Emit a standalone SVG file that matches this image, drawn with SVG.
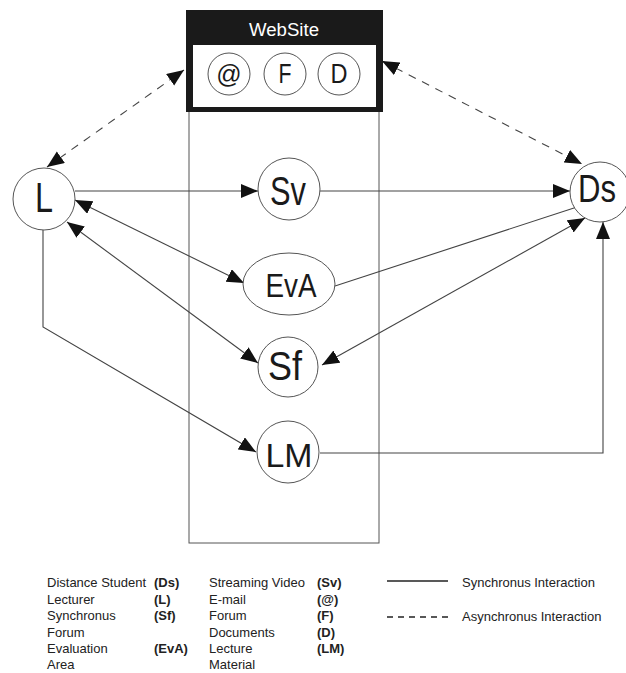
<svg xmlns="http://www.w3.org/2000/svg" width="626" height="673" viewBox="0 0 626 673">
<style>
  .bg{fill:#fff}
  .node{fill:#fff;stroke:#555;stroke-width:1}
  .lbl{font-family:"Liberation Sans",Arial,sans-serif;fill:#1a1a1a;text-anchor:middle}
  .conn{fill:none;stroke:#444;stroke-width:1.1}
  .dash{stroke-dasharray:8 7}
  .leg{font-family:"Liberation Sans",Arial,sans-serif;font-size:13px;fill:#222}
  .b{font-weight:bold}
</style>
<defs>
  <marker id="ah" markerUnits="userSpaceOnUse" markerWidth="18" markerHeight="15" refX="17" refY="7" orient="auto-start-reverse">
    <path d="M0,0 L17,7 L0,14 z" fill="#111"/>
  </marker>
</defs>
<rect class="bg" width="626" height="673"/>

<g id="area">
  <rect x="189" y="110" width="190" height="433" fill="none" stroke="#555" stroke-width="1"/>
</g>

<g id="connectors">
  <path class="conn" d="M75,191 L258,191" marker-end="url(#ah)"/>
  <path class="conn" d="M320,191 L570,191" marker-end="url(#ah)"/>
  <path class="conn" d="M75,200 L244,283" marker-start="url(#ah)" marker-end="url(#ah)"/>
  <path class="conn" d="M67,222 L258,363" marker-start="url(#ah)" marker-end="url(#ah)"/>
  <path class="conn" d="M335,286 L577,207"/>
  <path class="conn" d="M322,365 L585,218" marker-start="url(#ah)" marker-end="url(#ah)"/>
  <path class="conn" d="M43,230 L43,327 L256,452" marker-end="url(#ah)"/>
  <path class="conn" d="M320,453 L603,453 L603,222" marker-end="url(#ah)"/>
  <path class="conn dash" d="M47,167 L184,70" marker-start="url(#ah)" marker-end="url(#ah)"/>
  <path class="conn dash" d="M382,61 L582,164" marker-start="url(#ah)" marker-end="url(#ah)"/>
</g>

<g id="website">
  <rect x="186" y="10" width="197" height="102" fill="#1a1a1a"/>
  <rect x="193" y="45" width="183" height="62" fill="#fff"/>
  <text x="284" y="36" class="lbl" style="fill:#fff;font-size:18px" textLength="70" lengthAdjust="spacingAndGlyphs">WebSite</text>
  <g id="email">
    <circle class="node" cx="229" cy="74" r="21"/>
    <text x="229" y="83" class="lbl" style="font-size:25px">@</text>
  </g>
  <g id="forum">
    <circle class="node" cx="285" cy="74" r="21"/>
    <text x="285" y="83" class="lbl" style="font-size:27px" textLength="13" lengthAdjust="spacingAndGlyphs">F</text>
  </g>
  <g id="documents">
    <circle class="node" cx="339" cy="74" r="21"/>
    <text x="339" y="83" class="lbl" style="font-size:27px" textLength="17" lengthAdjust="spacingAndGlyphs">D</text>
  </g>
</g>

<g id="L">
  <circle class="node" cx="44" cy="199" r="31"/>
  <text x="44" y="212" class="lbl" style="font-size:42px" textLength="18" lengthAdjust="spacingAndGlyphs">L</text>
</g>
<g id="Sv">
  <circle class="node" cx="289" cy="189" r="31"/>
  <text x="288" y="205" class="lbl" style="font-size:41px" textLength="36" lengthAdjust="spacingAndGlyphs">Sv</text>
</g>
<g id="Ds">
  <circle class="node" cx="600" cy="192" r="30"/>
  <text x="597" y="202" class="lbl" style="font-size:39px" textLength="38" lengthAdjust="spacingAndGlyphs">Ds</text>
</g>
<g id="EvA">
  <ellipse class="node" cx="289" cy="284" rx="46" ry="31"/>
  <text x="291" y="297" class="lbl" style="font-size:33px" textLength="51" lengthAdjust="spacingAndGlyphs">EvA</text>
</g>
<g id="Sf">
  <circle class="node" cx="288" cy="367" r="30"/>
  <text x="285" y="380" class="lbl" style="font-size:41px" textLength="34" lengthAdjust="spacingAndGlyphs">Sf</text>
</g>
<g id="LM">
  <circle class="node" cx="288" cy="452" r="31"/>
  <text x="289" y="467" class="lbl" style="font-size:33px" textLength="47" lengthAdjust="spacingAndGlyphs">LM</text>
</g>

<g id="legend">
  <text class="leg" x="47" y="587">Distance Student</text>
  <text class="leg" x="47" y="603.5">Lecturer</text>
  <text class="leg" x="47" y="620">Synchronus</text>
  <text class="leg" x="47" y="636.5">Forum</text>
  <text class="leg" x="47" y="653">Evaluation</text>
  <text class="leg" x="47" y="669">Area</text>
  <text class="leg b" x="154" y="587">(Ds)</text>
  <text class="leg b" x="154" y="603.5">(L)</text>
  <text class="leg b" x="154" y="620">(Sf)</text>
  <text class="leg b" x="154" y="653">(EvA)</text>
  <text class="leg" x="209" y="587">Streaming Video</text>
  <text class="leg" x="209" y="603.5">E-mail</text>
  <text class="leg" x="209" y="620">Forum</text>
  <text class="leg" x="209" y="636.5">Documents</text>
  <text class="leg" x="209" y="653">Lecture</text>
  <text class="leg" x="209" y="669">Material</text>
  <text class="leg b" x="317" y="587">(Sv)</text>
  <text class="leg b" x="317" y="603.5">(@)</text>
  <text class="leg b" x="317" y="620">(F)</text>
  <text class="leg b" x="317" y="636.5">(D)</text>
  <text class="leg b" x="317" y="653">(LM)</text>
  <line x1="387" y1="581" x2="448" y2="581" stroke="#222" stroke-width="1.3"/>
  <line x1="387" y1="617" x2="448" y2="617" stroke="#222" stroke-width="1.3" stroke-dasharray="6 5"/>
  <text class="leg" x="462" y="587">Synchronus Interaction</text>
  <text class="leg" x="462" y="621">Asynchronus Interaction</text>
</g>
</svg>
